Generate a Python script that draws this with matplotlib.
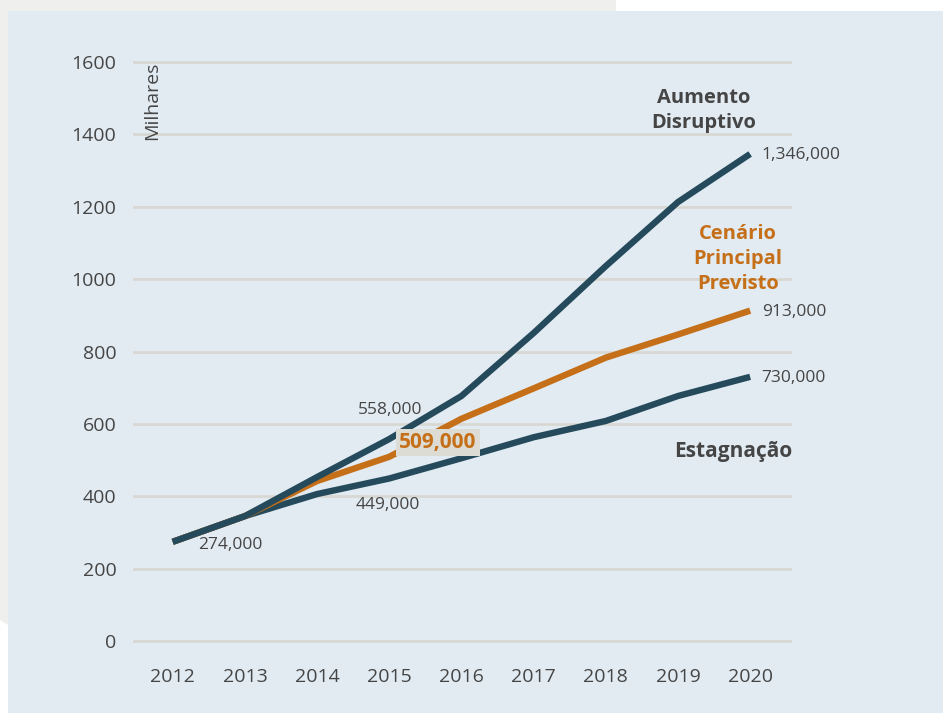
import matplotlib.pyplot as plt
from matplotlib.patches import Polygon, Rectangle

# dados (milhares)
anos = [2012, 2013, 2014, 2015, 2016, 2017, 2018, 2019, 2020]
disruptivo = [274, 345, 453, 558, 677, 851, 1036, 1213, 1346]
principal = [274, 345, 442, 509, 614, 698, 783, 847, 913]
estagnacao = [274, 345, 406, 449, 505, 563, 608, 677, 730]
yticks = [0, 200, 400, 600, 800, 1000, 1200, 1400, 1600]

azul = '#254a5c'
laranja = '#c56f18'
cinza = '#454545'

plt.rcParams['font.family'] = ['Open Sans', 'DejaVu Sans']

fig = plt.figure(figsize=(9.43, 7.13), dpi=100)
fig.patch.set_facecolor('white')

# fundo (faixa cinza + painel azul claro)
W, H = 943, 713
def fx(p): return p / W
def fy(p): return 1 - p / H
fig.patches.append(Polygon([(0, 1), (fx(616), 1), (fx(616), fy(11)), (fx(8), fy(11)),
                            (fx(8), fy(625)), (0, fy(620))],
                           closed=True, transform=fig.transFigure, facecolor='#efefed',
                           edgecolor='none', zorder=-10))
fig.patches.append(Rectangle((fx(8), 0), 1 - fx(8), fy(11), transform=fig.transFigure,
                             facecolor='#e2ebf2', edgecolor='none', zorder=-10))

ax = fig.add_axes([133 / W, 0.0909, (792 - 133) / W, 0.9231 - 0.0909])
ax.set_facecolor('none')
ax.set_xlim(2011.45, 2020.58)
ax.set_ylim(-20, 1620)

for s in ax.spines.values():
    s.set_visible(False)
ax.set_yticks(yticks)
ax.set_xticks(anos)
ax.tick_params(length=0, labelsize=14, labelcolor=cinza)
ax.tick_params(axis='y', pad=12)
ax.tick_params(axis='x', pad=14)
ax.grid(axis='y', color='#d8d8d2', linewidth=2)
ax.set_axisbelow(True)

ax.plot(anos, estagnacao, color=azul, linewidth=4.6, solid_capstyle='butt', zorder=3)
ax.plot(anos, principal, color=laranja, linewidth=4.6, solid_capstyle='butt', zorder=4)
ax.plot(anos, disruptivo, color=azul, linewidth=4.6, solid_capstyle='butt', zorder=5)

ax.text(2011.72, 1600, 'Milhares', rotation=90, ha='center', va='top',
        fontsize=14, color=cinza)

# rótulos das séries
ax.text(2019.36, 1467, 'Aumento\nDisruptivo', ha='center', va='center', fontsize=14.5,
        fontweight='bold', color=cinza, linespacing=1.35)
ax.text(2019.83, 1055, 'Cenário\nPrincipal\nPrevisto', ha='center', va='center', fontsize=14.5,
        fontweight='bold', color=laranja, linespacing=1.35)
ax.text(2019.77, 525, 'Estagnação', ha='center', va='center', fontsize=15,
        fontweight='bold', color=cinza)

# rótulos de valores
def rot(x, y, v, **kw):
    ax.text(x, y, v, fontsize=12.5, color=cinza, va='center', **kw)

rot(2020.16, disruptivo[-1] - 2, f'{disruptivo[-1] * 1000:,}')
rot(2020.16, principal[-1] - 5, f'{principal[-1] * 1000:,}')
rot(2020.16, estagnacao[-1] - 2, f'{estagnacao[-1] * 1000:,}')
rot(2014.56, 637, f'{disruptivo[3] * 1000:,}')
rot(2014.53, 376, f'{estagnacao[3] * 1000:,}')
rot(2012.35, 265, f'{disruptivo[0] * 1000:,}')
ax.text(2015.14, 548, f'{principal[3] * 1000:,}', fontsize=15, fontweight='bold',
        color=laranja, va='center', zorder=6,
        bbox=dict(boxstyle='square,pad=0.15', facecolor='#dcdcd5', edgecolor='none'))

fig.savefig('out.png', dpi=100)
